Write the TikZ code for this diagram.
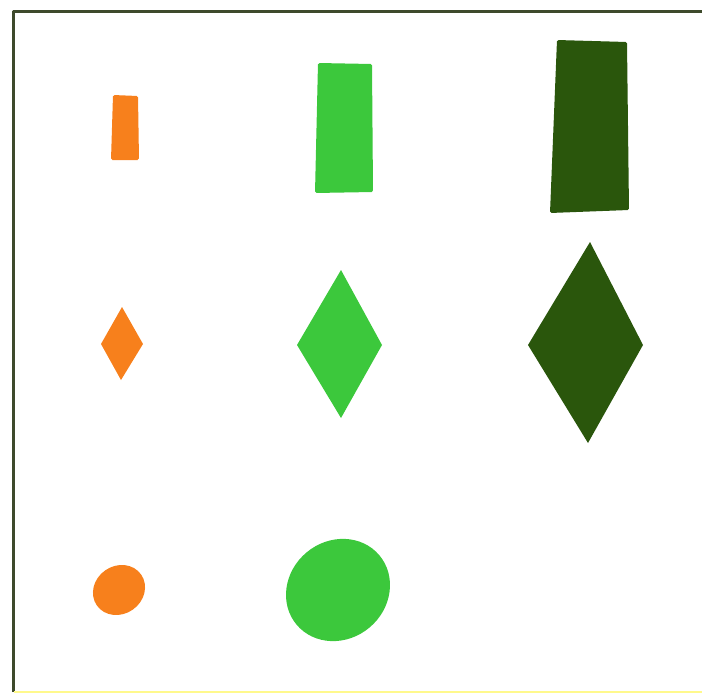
\documentclass[tikz,border=0pt]{standalone}
\usepackage{tikz}
\usetikzlibrary{calc}
\definecolor{small}{HTML}{F7801C}
\definecolor{mid}{HTML}{3CC83C}
\definecolor{big}{HTML}{2A560C}
\definecolor{frame}{HTML}{3E4A2C}

\begin{document}
\begin{tikzpicture}[x=1pt, y=-1pt, line join=round,
  piece/.style={rounded corners=1.5pt}]
\useasboundingbox (0,0) rectangle (702,696);
% frame
\draw[frame, line width=3pt] (13,692) -- (13,11) -- (702,11);
\draw[yellow!45!white, line width=1.5pt] (14,692) -- (702,692);
% blocks
\fill[small, piece] (113,95) -- (138,96) -- (139,160) -- (111,160) -- cycle;
\fill[mid, piece] (318,63) -- (372,64) -- (373,192) -- (315,193) -- cycle;
\fill[big, piece] (557,40) -- (627,42) -- (629,210) -- (550,213) -- cycle;
% diamonds
\fill[small] (122,307) -- (143,344) -- (121,380) -- (101,344) -- cycle;
\fill[mid] (341,270) -- (382,345) -- (341,418) -- (297,345) -- cycle;
\fill[big] (590,242) -- (643,345) -- (588,443) -- (528,345) -- cycle;
% eggs
\fill[small, rotate around={35:(119,590)}] (119,590) ellipse[x radius=27, y radius=24];
\fill[mid, rotate around={40:(338,590)}] (338,590) ellipse[x radius=54, y radius=49];
\end{tikzpicture}
\end{document}
